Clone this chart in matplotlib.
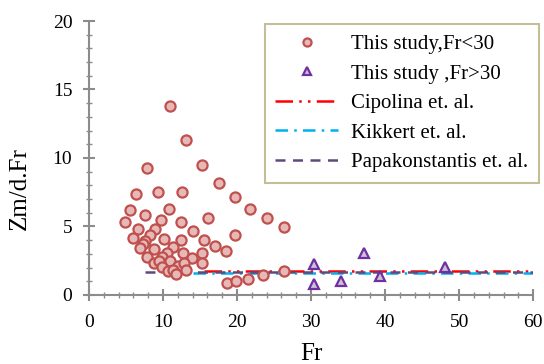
import matplotlib
matplotlib.use("Agg")
import matplotlib.pyplot as plt
from matplotlib.ticker import MultipleLocator

plt.rcParams['font.family'] = ['Liberation Serif', 'DejaVu Serif']

# Data: This study, Fr<30
fr_low = [10.95, 13.1, 7.8, 15.3, 17.5, 6.35, 9.3, 12.6, 19.7, 5.5, 10.8, 21.8, 24.0,
          4.9, 7.6, 9.7, 12.4, 16.1, 6.6, 8.9, 5.9, 8.2, 10.1, 14.0, 7.6, 7.25, 6.9,
          12.4, 15.5, 19.7, 8.8, 11.4, 17.0, 7.9, 10.5, 12.7, 15.2, 18.5, 9.8, 13.9,
          8.8, 9.4, 10.95, 9.9, 12.0, 12.9, 15.2, 10.7, 11.4, 13.1, 11.8, 18.6, 19.9,
          21.5, 23.5, 26.3, 26.3]
zm_low = [13.8, 11.3, 9.3, 9.5, 8.2, 7.4, 7.5, 7.5, 7.15, 6.2, 6.3, 6.3, 5.65,
          5.35, 5.85, 5.5, 5.35, 5.6, 4.85, 4.85, 4.15, 4.4, 4.1, 4.65, 3.95, 3.7, 3.4,
          4.0, 4.05, 4.4, 3.35, 3.5, 3.6, 2.8, 3.1, 3.05, 3.1, 3.2, 2.8, 2.7,
          2.35, 2.5, 2.45, 2.05, 2.1, 2.35, 2.35, 1.75, 1.85, 1.8, 1.5, 0.85, 1.0,
          1.2, 1.45, 4.95, 1.75]

# Data: This study, Fr>30
fr_high = [30.4, 30.4, 34.0, 37.2, 39.3, 48.1]
zm_high = [2.25, 0.8, 1.0, 3.05, 1.4, 2.05]

# Reference relations (constant levels)
cipolina_x = [15.5, 60]
cipolina_y = [1.75, 1.75]
kikkert_x = [14.0, 60]
kikkert_y = [1.58, 1.58]
papa_x = [7.5, 60]
papa_y = [1.67, 1.67]

fig = plt.figure(figsize=(5.44, 3.64), dpi=100)
ax = fig.add_axes([0.1636, 0.1896, 0.8164, 0.7527])

ax.plot(cipolina_x, cipolina_y, color='#ff0000', lw=1.8,
        dashes=(7, 2.5, 1, 2.5, 1, 2.5), label='Cipolina et. al.', zorder=2)
ax.plot(kikkert_x, kikkert_y, color='#00b0f0', lw=1.8,
        dashes=(5, 2.5, 1, 2.5), label='Kikkert et. al.', zorder=2)
ax.plot(papa_x, papa_y, color='#604a7b', lw=1.8,
        dashes=(4, 3), label='Papakonstantis et. al.', zorder=2)

h1, = ax.plot(fr_low, zm_low, 'o', ms=7.3, mfc='#e6b9b8', mec='#c0504d', mew=1.6,
              ls='none', label='This study,Fr<30', zorder=3)
h2, = ax.plot(fr_high, zm_high, '^', ms=6.5, mfc='#ccc0da', mec='#7030a0', mew=1.6,
              ls='none', label='This study ,Fr>30', zorder=3)

ax.set_xlim(0, 60)
ax.set_ylim(0, 20)
ax.xaxis.set_major_locator(MultipleLocator(10))
ax.xaxis.set_minor_locator(MultipleLocator(2))
ax.yaxis.set_major_locator(MultipleLocator(5))
ax.yaxis.set_minor_locator(MultipleLocator(1))

for s in ['top', 'right']:
    ax.spines[s].set_visible(False)
for s in ['left', 'bottom']:
    ax.spines[s].set_color('#8c8c8c')
    ax.spines[s].set_linewidth(1.5)
ax.tick_params(which='major', direction='inout', length=8, width=1.5, color='#8c8c8c',
               labelsize=14)
ax.tick_params(axis='x', which='major', pad=10)
ax.tick_params(axis='y', which='major', pad=8)
ax.tick_params(which='minor', direction='inout', length=5, width=1.0, color='#8c8c8c')

fig.text(311 / 544, 3.5 / 364, 'Fr', fontsize=18, ha='center', va='baseline')
fig.text(20 / 544, 1 - 189 / 364, 'Zm/d.Fr', fontsize=18, rotation=90,
         ha='center', va='center')

handles, labels = ax.get_legend_handles_labels()
order = [3, 4, 0, 1, 2]
leg = ax.legend([handles[i] for i in order], [labels[i] for i in order],
                loc='upper right', bbox_to_anchor=(539 / 544, 1 - 24 / 364),
                bbox_transform=fig.transFigure, fontsize=15,
                frameon=True, fancybox=False, edgecolor='#c4bd97', framealpha=1,
                handlelength=3.0, handletextpad=0.65, borderpad=0.5, labelspacing=0.48,
                markerscale=0.8, borderaxespad=0)
leg.get_frame().set_linewidth(1.5)

fig.savefig('out.png', dpi=100)
